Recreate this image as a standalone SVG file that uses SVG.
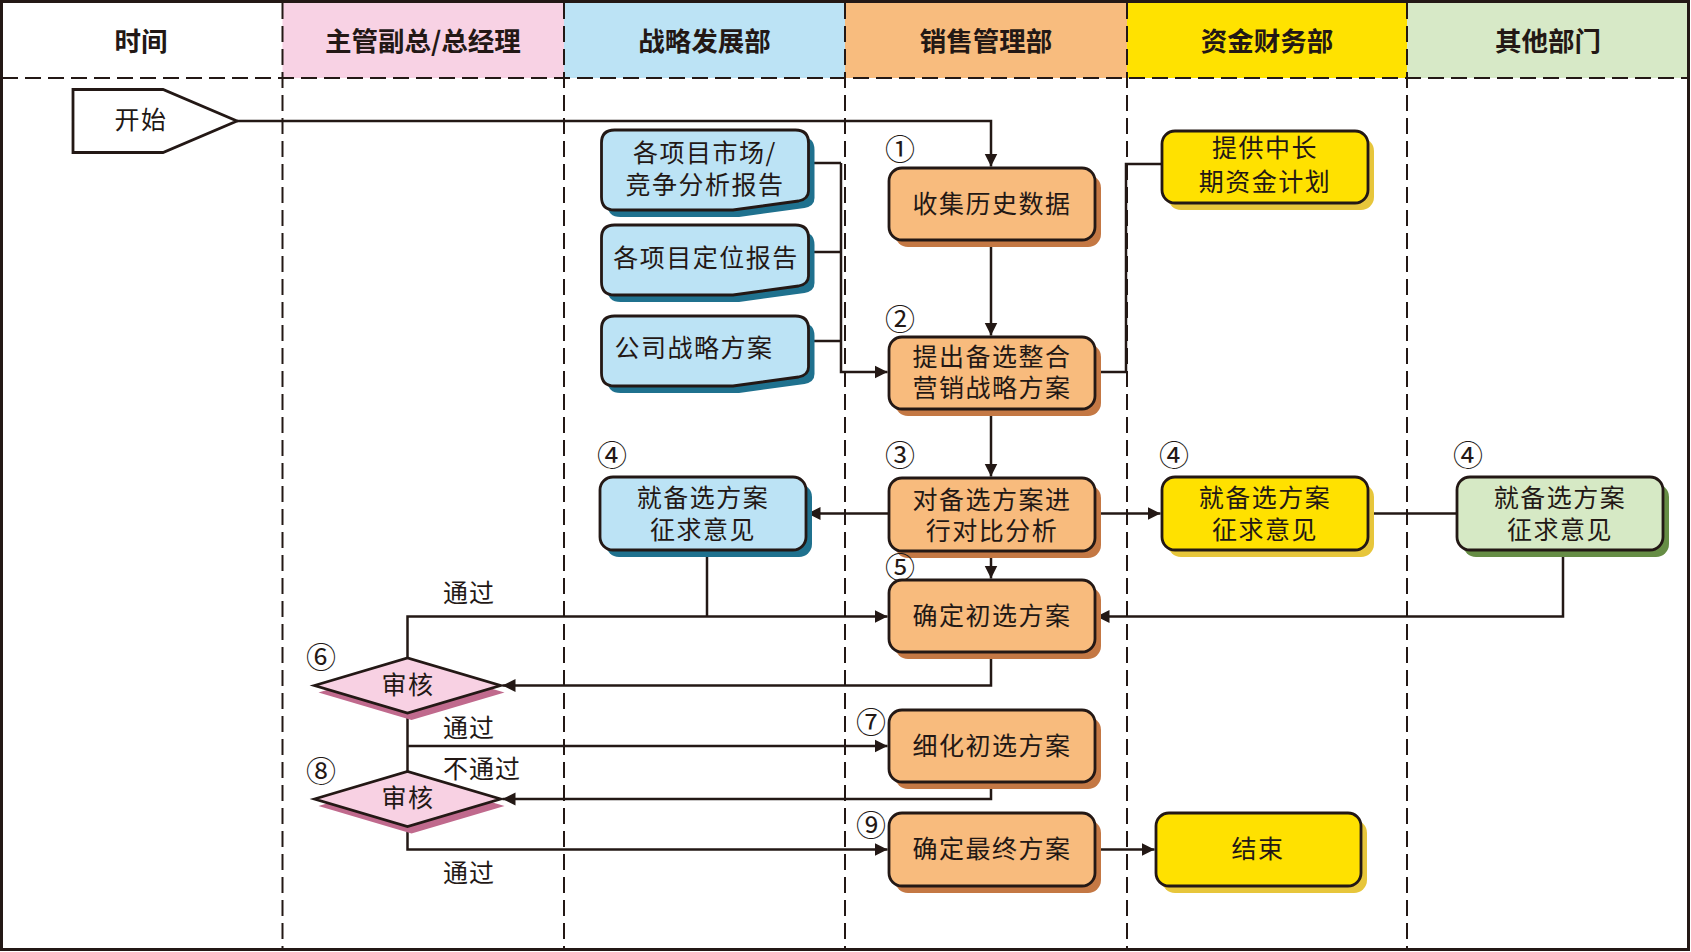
<svg xmlns="http://www.w3.org/2000/svg" width="1691" height="952" viewBox="0 0 1691 952">
<style>
text{font-family:"Noto Sans CJK SC","Noto Sans",sans-serif;fill:#231815;}
.hd{font-size:26.5px;font-weight:bold;text-anchor:middle;dominant-baseline:central;}
.t{font-size:25px;text-anchor:middle;dominant-baseline:central;letter-spacing:1.5px;}
.num{font-size:30px;text-anchor:middle;dominant-baseline:central;}
.lbl{font-size:25px;dominant-baseline:central;letter-spacing:1px;}
.div{stroke:#231815;stroke-width:2;stroke-dasharray:16 7;fill:none;}
.box{stroke:#231815;stroke-width:2.8;}
.or{fill:#F8BB7D;} .ors{fill:#C47844;}
.bl{fill:#BCE3F5;} .bls{fill:#1F718E;}
.ye{fill:#FFE100;} .yes{fill:#E7C63B;}
.gr{fill:#D6E9C5;} .grs{fill:#668D45;}
.pk{fill:#F8D1E3;} .pks{fill:#C06A8D;}
.cn{stroke:#231815;stroke-width:2.5;fill:none;}
.ar{marker-end:url(#arr);}
</style>
<defs>
<marker id="arr" markerUnits="userSpaceOnUse" markerWidth="14" markerHeight="14" refX="13" refY="7" orient="auto">
<path d="M0,0.5 L13,7 L0,13.5 z" fill="#231815"/>
</marker>
<path id="doc1" d="M614.5,130 H795.5 Q808.5,130 808.5,143 V191 Q808.5,199 798.5,201 L733,210 H614.5 Q601.5,210 601.5,197 V143 Q601.5,130 614.5,130 Z"/>
<path id="doc2" d="M614.5,225 H795.5 Q808.5,225 808.5,238 V276 Q808.5,284 798.5,286 L733,295 H614.5 Q601.5,295 601.5,282 V238 Q601.5,225 614.5,225 Z"/>
<path id="doc3" d="M614.5,316 H795.5 Q808.5,316 808.5,329 V367 Q808.5,375 798.5,377 L733,386 H614.5 Q601.5,386 601.5,373 V329 Q601.5,316 614.5,316 Z"/>
</defs>
<rect width="1691" height="952" fill="#ffffff"/>
<g id="header">
<rect x="282.5" y="3" width="281.5" height="75" fill="#F8D2E4"/>
<rect x="564" y="3" width="281" height="75" fill="#BCE3F5"/>
<rect x="845" y="3" width="282" height="75" fill="#F8BC7E"/>
<rect x="1127" y="3" width="280" height="75" fill="#FFE200"/>
<rect x="1407" y="3" width="281" height="75" fill="#D7E9C7"/>
<text class="hd" x="141" y="39">时间</text>
<text class="hd" x="423" y="39">主管副总/总经理</text>
<text class="hd" x="704.5" y="39">战略发展部</text>
<text class="hd" x="986" y="39">销售管理部</text>
<text class="hd" x="1267" y="39">资金财务部</text>
<text class="hd" x="1548" y="39">其他部门</text>
</g>
<g id="grid">
<line class="div" x1="2" y1="78" x2="1688" y2="78"/>
<line class="div" x1="282.5" y1="3" x2="282.5" y2="949"/>
<line class="div" x1="564" y1="3" x2="564" y2="949"/>
<line class="div" x1="845" y1="3" x2="845" y2="949"/>
<line class="div" x1="1127" y1="3" x2="1127" y2="949"/>
<line class="div" x1="1407" y1="3" x2="1407" y2="949"/>
<rect x="1.5" y="1.5" width="1687" height="948" fill="none" stroke="#231815" stroke-width="3"/>
</g>
<g id="connectors">
<path class="cn ar" d="M237,121 H991 V166.5"/>
<path class="cn ar" d="M991,240 V335.5"/>
<path class="cn" d="M808.5,163 H841 M808.5,252 H841 M808.5,341 H841"/>
<path class="cn ar" d="M841,163 V372 H887.5"/>
<path class="cn" d="M1162,164 H1126 V372 H1095"/>
<path class="cn ar" d="M991,409 V476.5"/>
<path class="cn ar" d="M889,513.5 H807.5"/>
<path class="cn ar" d="M1095,513.5 H1160.5"/>
<path class="cn" d="M1368,513.5 H1457"/>
<path class="cn ar" d="M991,551 V578.5"/>
<path class="cn ar" d="M1563,550 V616.5 H1096.5"/>
<path class="cn" d="M707,550 V616.5"/>
<path class="cn ar" d="M407.5,658 V616.5 H887.5"/>
<path class="cn ar" d="M991,652 V685.5 H502.5"/>
<path class="cn" d="M407.5,713 V771.5"/>
<path class="cn ar" d="M407.5,746 H887.5"/>
<path class="cn ar" d="M991,782 V799 H502.5"/>
<path class="cn ar" d="M407.5,826.5 V849.5 H887.5"/>
<path class="cn ar" d="M1095,849.5 H1154.5"/>
<text class="lbl" x="443" y="591">通过</text>
<text class="lbl" x="443" y="726">通过</text>
<text class="lbl" x="443" y="767">不通过</text>
<text class="lbl" x="443" y="871">通过</text>
</g>
<g id="start">
<polygon points="73,89.5 163,89.5 237,121 163,152.5 73,152.5" fill="#ffffff" stroke="#231815" stroke-width="2.8"/>
<text class="t" x="141" y="118">开始</text>
</g>
<g id="doc-market">
<use href="#doc1" class="bls" transform="translate(6,7)"/>
<use href="#doc1" class="bl box"/>
<text class="t" x="705" y="151">各项目市场/</text>
<text class="t" x="705" y="183">竞争分析报告</text>
</g>
<g id="doc-position">
<use href="#doc2" class="bls" transform="translate(6,7)"/>
<use href="#doc2" class="bl box"/>
<text class="t" x="706" y="256">各项目定位报告</text>
</g>
<g id="doc-strategy">
<use href="#doc3" class="bls" transform="translate(6,7)"/>
<use href="#doc3" class="bl box"/>
<text class="t" x="694" y="346">公司战略方案</text>
</g>
<g id="fund-plan">
<rect x="1168" y="138" width="206" height="72" rx="13" class="yes"/>
<rect x="1162" y="131" width="206" height="72" rx="13" class="ye box"/>
<text class="t" x="1265" y="146">提供中长</text>
<text class="t" x="1265" y="180">期资金计划</text>
</g>
<g id="n1">
<text class="num" x="900" y="147">①</text>
<rect x="895" y="175" width="206" height="72" rx="13" class="ors"/>
<rect x="889" y="168" width="206" height="72" rx="13" class="or box"/>
<text class="t" x="992" y="202">收集历史数据</text>
</g>
<g id="n2">
<text class="num" x="900" y="317">②</text>
<rect x="895" y="344" width="206" height="72" rx="13" class="ors"/>
<rect x="889" y="337" width="206" height="72" rx="13" class="or box"/>
<text class="t" x="992" y="355">提出备选整合</text>
<text class="t" x="992" y="386">营销战略方案</text>
</g>
<g id="n3">
<text class="num" x="900" y="453">③</text>
<rect x="895" y="485" width="206" height="73" rx="13" class="ors"/>
<rect x="889" y="478" width="206" height="73" rx="13" class="or box"/>
<text class="t" x="992" y="498">对备选方案进</text>
<text class="t" x="992" y="529">行对比分析</text>
</g>
<g id="n4-strategy">
<text class="num" x="612" y="453">④</text>
<rect x="606" y="484" width="206" height="73" rx="13" class="bls"/>
<rect x="600" y="477" width="206" height="73" rx="13" class="bl box"/>
<text class="t" x="703" y="496">就备选方案</text>
<text class="t" x="703" y="528">征求意见</text>
</g>
<g id="n4-finance">
<text class="num" x="1174" y="453">④</text>
<rect x="1168" y="484" width="206" height="73" rx="13" class="yes"/>
<rect x="1162" y="477" width="206" height="73" rx="13" class="ye box"/>
<text class="t" x="1265" y="496">就备选方案</text>
<text class="t" x="1265" y="528">征求意见</text>
</g>
<g id="n4-other">
<text class="num" x="1468" y="453">④</text>
<rect x="1463" y="484" width="206" height="73" rx="13" class="grs"/>
<rect x="1457" y="477" width="206" height="73" rx="13" class="gr box"/>
<text class="t" x="1560" y="496">就备选方案</text>
<text class="t" x="1560" y="528">征求意见</text>
</g>
<g id="n5">
<text class="num" x="900" y="565">⑤</text>
<rect x="895" y="587" width="206" height="72" rx="13" class="ors"/>
<rect x="889" y="580" width="206" height="72" rx="13" class="or box"/>
<text class="t" x="992" y="614">确定初选方案</text>
</g>
<g id="n6">
<text class="num" x="321" y="655">⑥</text>
<polygon points="314.5,685.5 407.5,658 500.5,685.5 407.5,713" class="pks" transform="translate(4,7)"/>
<polygon points="314.5,685.5 407.5,658 500.5,685.5 407.5,713" class="pk box"/>
<text class="t" x="408" y="683">审核</text>
</g>
<g id="n7">
<text class="num" x="871" y="720">⑦</text>
<rect x="895" y="717" width="206" height="72" rx="13" class="ors"/>
<rect x="889" y="710" width="206" height="72" rx="13" class="or box"/>
<text class="t" x="992" y="744">细化初选方案</text>
</g>
<g id="n8">
<text class="num" x="321" y="769">⑧</text>
<polygon points="314.5,799 407.5,771.5 500.5,799 407.5,826.5" class="pks" transform="translate(4,7)"/>
<polygon points="314.5,799 407.5,771.5 500.5,799 407.5,826.5" class="pk box"/>
<text class="t" x="408" y="796">审核</text>
</g>
<g id="n9">
<text class="num" x="871" y="823">⑨</text>
<rect x="895" y="820" width="206" height="73" rx="13" class="ors"/>
<rect x="889" y="813" width="206" height="73" rx="13" class="or box"/>
<text class="t" x="992" y="847">确定最终方案</text>
</g>
<g id="end">
<rect x="1162" y="820" width="205" height="73" rx="13" class="yes"/>
<rect x="1156" y="813" width="205" height="73" rx="13" class="ye box"/>
<text class="t" x="1258" y="847">结束</text>
</g>
</svg>
